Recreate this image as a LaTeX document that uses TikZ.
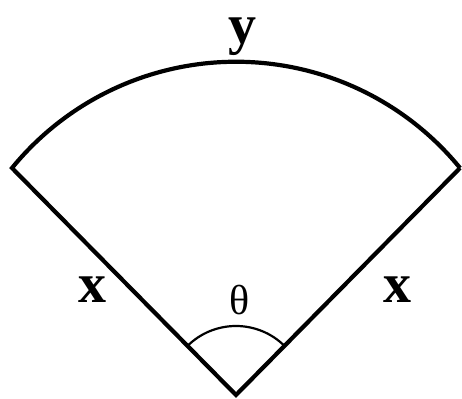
\documentclass[tikz,border=0pt]{standalone}
\usepackage{fontspec}
\setmainfont{Liberation Serif}
\newcommand{\lbl}[1]{\fontsize{56}{56}\selectfont\bfseries #1}

\begin{document}
\begin{tikzpicture}[x=1pt, y=1pt, line width=4.2pt]
  \useasboundingbox (0,0) rectangle (462,398);
  \coordinate (O) at (236,3);
  \coordinate (A) at (12,230);
  \coordinate (B) at (460,230);
  \draw[line join=miter] (B) -- (O) -- (A) arc[start angle=140.75, end angle=39.25, radius=289.3];
  \draw[line width=2.2pt] (O) ++(135:69) arc[start angle=135, end angle=45, radius=69];
  \node[anchor=base, inner sep=0pt] (y) at (242,354) {\lbl{y}};
  \node[anchor=base, inner sep=0pt] (xl) at (92,95) {\lbl{x}};
  \node[anchor=base, inner sep=0pt] (xr) at (397,95) {\lbl{x}};
  \node[anchor=base, inner sep=0pt, font=\fontsize{42}{42}\selectfont] (t) at (240,83) {θ};
\end{tikzpicture}
\end{document}
